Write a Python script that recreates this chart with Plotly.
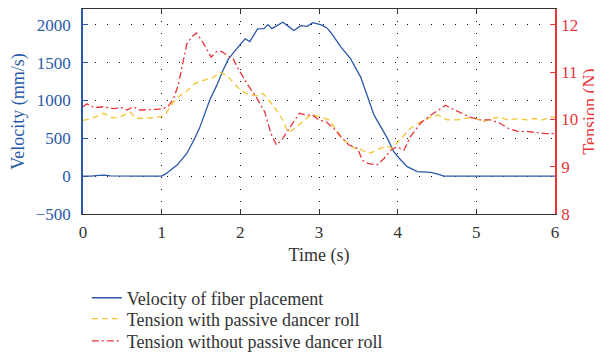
import plotly.graph_objects as go

# ---- data ----
t_vel = [0, 0.1, 0.2, 0.27, 0.35, 0.5, 0.7, 0.9, 1.0, 1.05, 1.1, 1.2, 1.23, 1.32, 1.42, 1.48,
         1.61, 1.7, 1.78, 1.85, 1.95, 2.06, 2.12, 2.22, 2.3, 2.35, 2.4, 2.47, 2.54, 2.6, 2.68,
         2.77, 2.85, 2.92, 3.03, 3.1, 3.15, 3.28, 3.4, 3.53, 3.7, 3.87, 3.95, 4.02, 4.12, 4.25,
         4.35, 4.42, 4.5, 4.59, 5.0, 5.5, 6.0]
velocity = [0, 0, 10, 15, 5, 0, 0, 0, 0, 30, 70, 150, 190, 300, 500, 632,
            1004, 1200, 1400, 1550, 1680, 1816, 1780, 1947, 1950, 2004, 1950, 1990, 2034, 1990, 1925,
            1990, 1980, 2030, 2000, 1960, 1900, 1705, 1553, 1310, 807, 500, 324, 237, 126, 60,
            50, 50, 30, 0, 0, 0, 0]

t_with = [0, 0.1, 0.2, 0.26, 0.39, 0.49, 0.6, 0.68, 0.81, 0.96, 1.04, 1.08, 1.15, 1.23, 1.32,
          1.42, 1.48, 1.57, 1.65, 1.74, 1.8, 1.86, 1.93, 2.01, 2.1, 2.22, 2.29, 2.35, 2.43, 2.54,
          2.6, 2.66, 2.77, 2.9, 3.03, 3.13, 3.22, 3.32, 3.45, 3.53, 3.62, 3.7, 3.78, 3.87, 3.93,
          4.04, 4.16, 4.29, 4.42, 4.52, 4.63, 4.76, 4.88, 5.0, 5.08, 5.19, 5.3, 5.4, 5.53, 5.64,
          5.74, 5.85, 5.93, 6.0]
tension_with = [9.98, 10.02, 10.08, 10.13, 10.03, 10.07, 10.15, 10.02, 10.03, 10.05, 10.09, 10.2,
                10.37, 10.5, 10.6, 10.76, 10.8, 10.85, 10.88, 11.0, 10.95, 10.88, 10.74, 10.62,
                10.53, 10.5, 10.55, 10.44, 10.27, 9.99, 9.74, 9.77, 9.92, 10.1, 10.05, 9.99, 9.77,
                9.56, 9.39, 9.37, 9.28, 9.32, 9.39, 9.43, 9.39, 9.6, 9.81, 9.95, 10.05, 10.09,
                9.99, 9.99, 10.03, 10.02, 9.95, 10.02, 10.05, 9.99, 10.02, 9.99, 10.02, 9.99,
                10.05, 10.05]

t_without = [0, 0.05, 0.15, 0.26, 0.39, 0.49, 0.56, 0.64, 0.72, 0.81, 0.9, 1.0, 1.08, 1.15, 1.21,
             1.25, 1.32, 1.38, 1.44, 1.51, 1.57, 1.63, 1.7, 1.76, 1.84, 1.91, 1.97, 2.1, 2.2,
             2.31, 2.39, 2.46, 2.54, 2.65, 2.75, 2.82, 2.92, 3.0, 3.09, 3.19, 3.28, 3.38, 3.49,
             3.55, 3.62, 3.74, 3.83, 3.91, 3.99, 4.08, 4.16, 4.29, 4.42, 4.52, 4.61, 4.69, 4.8,
             4.92, 5.05, 5.18, 5.3, 5.41, 5.53, 5.64, 5.77, 5.89, 6.0]
tension_without = [10.27, 10.33, 10.25, 10.27, 10.23, 10.25, 10.2, 10.27, 10.2, 10.21, 10.22,
                   10.22, 10.27, 10.44, 10.72, 11.07, 11.6, 11.74, 11.83, 11.67, 11.5, 11.32,
                   11.44, 11.44, 11.35, 11.28, 11.08, 10.72, 10.48, 10.16, 9.7, 9.46, 9.6, 9.88,
                   10.13, 10.1, 10.09, 9.99, 9.95, 9.81, 9.63, 9.46, 9.39, 9.14, 9.07, 9.04, 9.18,
                   9.35, 9.42, 9.35, 9.63, 9.92, 10.09, 10.2, 10.3, 10.23, 10.15, 10.05, 9.99,
                   9.99, 9.92, 9.81, 9.75, 9.75, 9.72, 9.7, 9.7]

names = ["Velocity of fiber placement", "Tension with passive dancer roll",
         "Tension without passive dancer roll"]

BLUE = "#2b59a8"
RED = "#e8343a"
YELLOW = "#f5c431"
DARK = "#333333"
FONT = "Liberation Serif"

fig = go.Figure()
fig.add_trace(go.Scatter(x=t_vel, y=velocity, name=names[0], mode="lines",
                         line=dict(color=BLUE, width=1.3), yaxis="y", legend="legend"))
fig.add_trace(go.Scatter(x=t_with, y=tension_with, name=names[1], mode="lines",
                         line=dict(color=YELLOW, width=1.3, dash="6px,4px"), yaxis="y2",
                         legend="legend2"))
fig.add_trace(go.Scatter(x=t_without, y=tension_without, name=names[2], mode="lines",
                         line=dict(color=RED, width=1.3, dash="7px,3px,2px,3px"), yaxis="y2",
                         legend="legend3"))

leg_common = dict(x=0.008, xanchor="left", yanchor="middle",
                  font=dict(family=FONT, size=18, color=DARK),
                  itemwidth=30, bgcolor="rgba(0,0,0,0)", borderwidth=0)

GRID_DASH = "1px,11px"

# The page body adds an 8px offset, so the figure is 594x345 inside a 602x353 window.
fig.update_layout(
    width=594, height=345,
    margin=dict(l=75, r=47, t=1, b=139, autoexpand=False),
    paper_bgcolor="white", plot_bgcolor="white",
    font=dict(family=FONT, size=17, color=DARK),
    showlegend=True,
    legend=dict(y=-0.41, **leg_common),
    legend2=dict(y=-0.512, **leg_common),
    legend3=dict(y=-0.62, **leg_common),
    xaxis=dict(range=[0, 6], dtick=1, ticks="inside", ticklen=5, tickcolor=DARK,
               showline=True, linecolor=DARK, linewidth=1, mirror="ticks",
               showgrid=True, gridcolor="#111111", griddash=GRID_DASH, gridwidth=1.2,
               zeroline=False, automargin=False, ticklabelstandoff=3,
               tickfont=dict(family=FONT, size=17, color=DARK),
               title=dict(text="Time (s)", font=dict(family=FONT, size=18, color=DARK),
                          standoff=6)),
    yaxis=dict(range=[-500, 2210], tickvals=[-500, 0, 500, 1000, 1500, 2000],
               ticktext=["\u2212500", "0", "500", "1000", "1500", "2000"],
               ticks="inside", ticklen=5, tickcolor=BLUE,
               showline=True, linecolor=BLUE, linewidth=1.5,
               showgrid=True, gridcolor="#111111", griddash=GRID_DASH, gridwidth=1.2,
               zeroline=False, automargin=False, ticklabelstandoff=7,
               tickfont=dict(family=FONT, size=17, color=BLUE),
               title=dict(text="Velocity (mm/s)", font=dict(family=FONT, size=18, color=BLUE),
                          standoff=6)),
    yaxis2=dict(range=[8, 12.337], dtick=1, overlaying="y", side="right",
                ticks="inside", ticklen=5, tickcolor=RED,
                showline=True, linecolor=RED, linewidth=1.5,
                showgrid=False, zeroline=False, automargin=False, ticklabelstandoff=1,
                tickfont=dict(family=FONT, size=17, color=RED),
                title=dict(text="Tension (N)", font=dict(family=FONT, size=18, color=RED),
                           standoff=6)),
)

fig.write_html("out.html")
